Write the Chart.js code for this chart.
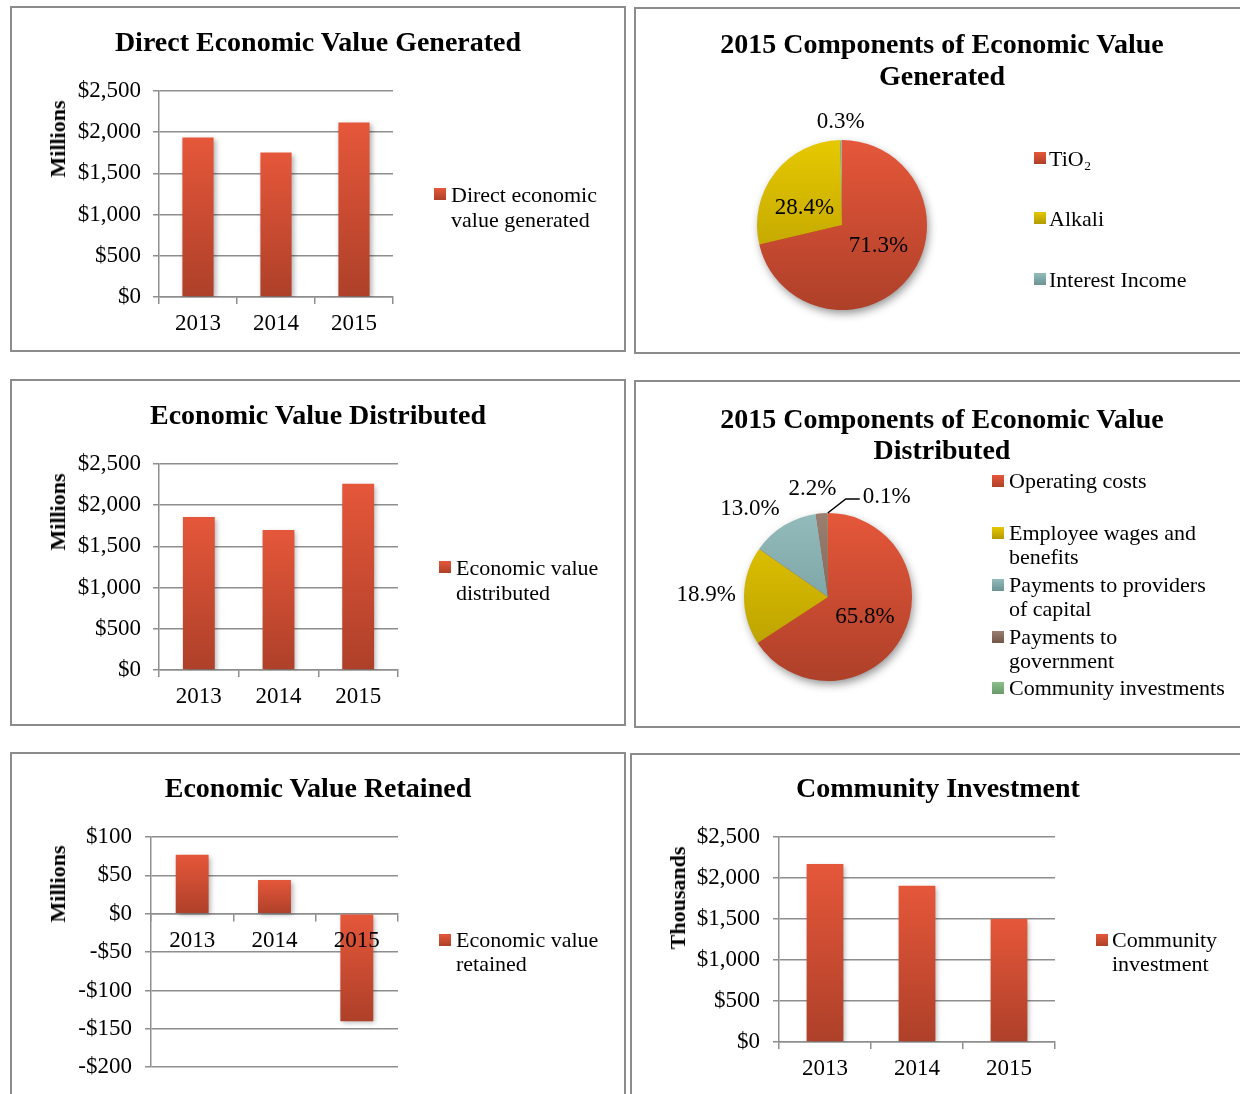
<!DOCTYPE html>
<html lang="en">
<head>
<meta charset="UTF-8">
<title>Economic Value Generated and Distributed</title>
<script src="https://cdn.jsdelivr.net/npm/chart.js"></script>
<style>
  body { margin: 0; background: #fff; font-family: "Liberation Serif", "Times New Roman", serif; color: #000; }
  #page { position: relative; width: 1240px; height: 1094px; overflow: hidden; }
  .panel { position: absolute; box-sizing: border-box; border: 2px solid #8c8c8c; background: #fff; }
  canvas { position: absolute; }
  .title { position: absolute; font-weight: bold; font-size: 28px; text-align: center; white-space: nowrap; transform: translateX(-50%); }
  .axis-title { position: absolute; font-weight: bold; font-size: 22px; line-height: 22px; white-space: nowrap; transform: translate(-50%, -50%) rotate(-90deg); }
  .legend-text { position: absolute; font-size: 22px; white-space: nowrap; }
  .swatch { position: absolute; width: 12px; height: 12px; }
</style>
</head>
<body>
<div id="page"></div>
<script>
// ---- data ----
const years = ['2013', '2014', '2015'];
const generated = [1936, 1753, 2119];      // $ millions
const distributed = [1858, 1700, 2261];    // $ millions
const retained = [77, 44, -140];           // $ millions
const community = [2170, 1905, 1500];      // $ thousands

const genSources = ['TiO₂', 'Alkali', 'Interest Income'];
const genShares = [71.3, 28.4, 0.3];

const distUses = [
  ['Operating costs'],
  ['Employee wages and', 'benefits'],
  ['Payments to providers', 'of capital'],
  ['Payments to', 'government'],
  ['Community investments']
];
const distShares = [65.8, 18.9, 13.0, 2.2, 0.1];

const seriesNames = {
  generated: ['Direct economic', 'value generated'],
  distributed: ['Economic value', 'distributed'],
  retained: ['Economic value', 'retained'],
  community: ['Community', 'investment']
};

// ---- look ----
const GRID = '#8e8e8e';
const palette = [
  ['#e5573a', '#ae4029'],
  ['#e6c800', '#b29900'],
  ['#94bbbb', '#6b9393'],
  ['#9a7f70', '#725648'],
  ['#8cbf8c', '#699969']
];

Chart.defaults.font.family = '"Liberation Serif", "Times New Roman", serif';
Chart.defaults.font.size = 23;
Chart.defaults.color = '#000';
Chart.defaults.animation = false;
Chart.defaults.plugins.legend.display = false;
Chart.defaults.plugins.tooltip.enabled = false;

const page = document.getElementById('page');

function px(el, props) {
  for (const k in props) el.style[k] = props[k] + 'px';
}

function panel(l, t, w, h) {
  const d = document.createElement('div');
  d.className = 'panel';
  px(d, { left: l, top: t, width: w, height: h });
  page.appendChild(d);
}

function canvasAt(box) {
  const c = document.createElement('canvas');
  c.width = box.w;
  c.height = box.h;
  px(c, { left: box.x, top: box.y });
  page.appendChild(c);
  return c;
}

function title(lines, cx, cy, lh) {
  const d = document.createElement('div');
  d.className = 'title';
  d.innerHTML = lines.join('<br>');
  d.style.lineHeight = lh + 'px';
  px(d, { left: cx, top: cy - lh / 2 });
  page.appendChild(d);
}

function axisTitle(text, cx, cy) {
  const d = document.createElement('div');
  d.className = 'axis-title';
  d.textContent = text;
  px(d, { left: cx, top: cy });
  page.appendChild(d);
}

function gradientCss(c) {
  return 'linear-gradient(' + c[0] + ', ' + c[1] + ')';
}

function legend(names, colors, sx, tx, ys, lh) {
  names.forEach((lines, i) => {
    const sw = document.createElement('div');
    sw.className = 'swatch';
    sw.style.background = gradientCss(colors[i]);
    px(sw, { left: sx, top: ys[i] - 6 });
    page.appendChild(sw);
    const t = document.createElement('div');
    t.className = 'legend-text';
    t.innerHTML = [].concat(lines).join('<br>');
    t.style.lineHeight = lh + 'px';
    px(t, { left: tx, top: ys[i] - lh / 2 });
    page.appendChild(t);
  });
}

function money(v) {
  const s = '$' + Math.abs(v).toLocaleString('en-US');
  return v < 0 ? '-' + s : s;
}

// each bar shades from light at its top to dark at its bottom
function barFill(c) {
  const y = c.chart.scales.y;
  if (!y || c.raw == null) return palette[0][0];
  const a = y.getPixelForValue(c.raw), b = y.getPixelForValue(0);
  if (!isFinite(a) || !isFinite(b) || a === b) return palette[0][0];
  const g = c.chart.ctx.createLinearGradient(0, Math.min(a, b), 0, Math.max(a, b));
  g.addColorStop(0, palette[0][0]);
  g.addColorStop(1, palette[0][1]);
  return g;
}

const barShadow = {
  id: 'barShadow',
  beforeDatasetsDraw(chart) {
    const ctx = chart.ctx;
    ctx.save();
    ctx.shadowColor = 'rgba(0,0,0,0.3)';
    ctx.shadowBlur = 5;
    ctx.shadowOffsetX = 2;
    ctx.shadowOffsetY = 2;
  },
  afterDatasetsDraw(chart) {
    chart.ctx.restore();
  }
};

function barChart(box, area, values, range, tickPad, zeroAxis) {
  return new Chart(canvasAt(box), {
    type: 'bar',
    data: {
      labels: years,
      datasets: [{ data: values, backgroundColor: barFill, categoryPercentage: 1, barPercentage: 0.4 }]
    },
    options: {
      responsive: false,
      devicePixelRatio: 1,
      layout: {
        padding: {
          left: 0,
          top: area.t - box.y,
          right: box.x + box.w - area.r,
          bottom: zeroAxis ? box.y + box.h - area.b : 0
        }
      },
      scales: {
        x: {
          position: zeroAxis ? { y: 0 } : 'bottom',
          grid: { offset: true, drawOnChartArea: false, color: GRID, lineWidth: 1.5, tickLength: 7 },
          border: { color: GRID, width: 1.5 },
          ticks: { padding: 6, z: 1 },
          afterFit: s => { if (!zeroAxis) s.height = box.y + box.h - area.b; }
        },
        y: {
          min: range[0],
          max: range[1],
          ticks: { stepSize: range[2], padding: tickPad, callback: money },
          grid: { color: GRID, lineWidth: 1.5, tickLength: 6 },
          border: { color: GRID, width: 1.5 },
          afterFit: s => { s.width = area.l - box.x; }
        }
      }
    },
    plugins: [barShadow]
  });
}

// pie slices shade top to bottom across the whole disc
function pieFill(c) {
  const col = palette[c.dataIndex] || palette[0];
  const area = c.chart.chartArea;
  if (!area || !isFinite(area.top) || !isFinite(area.bottom) || area.bottom <= area.top) return col[0];
  const g = c.chart.ctx.createLinearGradient(0, area.top, 0, area.bottom);
  g.addColorStop(0, col[0]);
  g.addColorStop(1, col[1]);
  return g;
}

const pieShadow = {
  id: 'pieShadow',
  beforeDatasetsDraw(chart) {
    const arc = chart.getDatasetMeta(0).data[0];
    if (!arc) return;
    const p = arc.getProps(['x', 'y', 'outerRadius'], true);
    const ctx = chart.ctx;
    ctx.save();
    ctx.shadowColor = 'rgba(0,0,0,0.45)';
    ctx.shadowBlur = 10;
    ctx.shadowOffsetX = 2;
    ctx.shadowOffsetY = 4;
    ctx.fillStyle = palette[0][1];
    ctx.beginPath();
    ctx.arc(p.x, p.y, p.outerRadius - 1, 0, Math.PI * 2);
    ctx.fill();
    ctx.restore();
  }
};

// percentage labels: big slices inside, small ones just outside the rim
const sliceLabels = {
  id: 'sliceLabels',
  afterDatasetsDraw(chart, args, opts) {
    const ctx = chart.ctx;
    const values = chart.data.datasets[0].data;
    const nudge = opts.nudge || {};
    ctx.save();
    ctx.font = '23px "Liberation Serif", serif';
    ctx.fillStyle = '#000';
    ctx.textBaseline = 'middle';
    chart.getDatasetMeta(0).data.forEach((arc, i) => {
      const text = values[i].toFixed(1) + '%';
      const [nx, ny] = nudge[i] || [0, 0];
      const p = arc.getProps(['x', 'y', 'startAngle', 'endAngle', 'outerRadius'], true);
      const mid = (p.startAngle + p.endAngle) / 2;
      const dx = Math.cos(mid), dy = Math.sin(mid);
      if (values[i] >= opts.insideMin) {
        const c = arc.tooltipPosition(true);
        ctx.textAlign = 'center';
        ctx.fillText(text, c.x + nx, c.y + ny);
        return;
      }
      const ex = p.x + dx * p.outerRadius, ey = p.y + dy * p.outerRadius;
      const bend = opts.callout && opts.callout[i];
      if (bend) {
        const bx = ex + bend[0], by = ey + bend[1];
        ctx.strokeStyle = '#000';
        ctx.lineWidth = 1.5;
        ctx.beginPath();
        ctx.moveTo(ex, ey);
        ctx.lineTo(bx, by);
        ctx.lineTo(bx + bend[2], by);
        ctx.stroke();
        ctx.textAlign = 'left';
        ctx.fillText(text, bx + bend[2] + 3, by - 2);
        return;
      }
      const w = ctx.measureText(text).width, h = 20;
      const lean = v => Math.max(-1, Math.min(1, v * 2));
      ctx.textAlign = 'center';
      ctx.fillText(text, ex + dx * opts.gap + lean(dx) * w / 2 + nx, ey + dy * opts.gap + lean(dy) * h / 2 + ny);
    });
    ctx.restore();
  }
};

function pieChart(box, area, names, values, labelOpts) {
  return new Chart(canvasAt(box), {
    type: 'pie',
    data: {
      labels: names.map(n => [].concat(n).join(' ')),
      datasets: [{ data: values, backgroundColor: pieFill, borderWidth: 0 }]
    },
    options: {
      responsive: false,
      devicePixelRatio: 1,
      layout: {
        padding: {
          left: area.l - box.x,
          top: area.t - box.y,
          right: box.x + box.w - area.r,
          bottom: box.y + box.h - area.b
        }
      },
      plugins: { sliceLabels: labelOpts }
    },
    plugins: [pieShadow, sliceLabels]
  });
}

// ---- panels ----
panel(10, 6, 616, 346);
panel(634, 7, 620, 347);
panel(10, 379, 616, 347);
panel(634, 380, 620, 348);
panel(10, 752, 616, 360);
panel(630, 753, 624, 360);

// Direct economic value generated
barChart({ x: 12, y: 8, w: 612, h: 342 }, { l: 159, t: 91, r: 393, b: 297 }, generated, [0, 2500, 500], 12, false);
title(['Direct Economic Value Generated'], 318, 42, 32);
axisTitle('Millions', 58, 139);
legend([seriesNames.generated], [palette[0]], 434, 451, [194], 25);

// 2015 components of value generated
pieChart({ x: 636, y: 9, w: 604, h: 343 }, { l: 757, t: 140, r: 927, b: 310 }, genSources, genShares,
  { insideMin: 20, gap: 8, nudge: { 0: [3, -5], 1: [-4, 9] } });
title(['2015 Components of Economic Value', 'Generated'], 942, 44, 32);
legend(genSources, palette, 1034, 1049, [158, 218, 279], 25);

// Economic value distributed
barChart({ x: 12, y: 381, w: 612, h: 343 }, { l: 159, t: 464, r: 398, b: 670 }, distributed, [0, 2500, 500], 12, false);
title(['Economic Value Distributed'], 318, 415, 32);
axisTitle('Millions', 58, 512);
legend([seriesNames.distributed], [palette[0]], 439, 456, [567], 25);

// 2015 components of value distributed
pieChart({ x: 636, y: 382, w: 604, h: 344 }, { l: 744, t: 513, r: 912, b: 681 }, distUses, distShares,
  { insideMin: 20, gap: 8, callout: { 4: [18, -14, 14] }, nudge: { 3: [-5, -6] } });
title(['2015 Components of Economic Value', 'Distributed'], 942, 418, 31);
legend(distUses, palette, 992, 1009, [481, 533, 585, 637, 688], 24);

// Economic value retained
barChart({ x: 12, y: 754, w: 612, h: 340 }, { l: 151, t: 837, r: 398, b: 1069 }, retained, [-200, 100, 50], 13, true);
title(['Economic Value Retained'], 318, 788, 32);
axisTitle('Millions', 58, 884);
legend([seriesNames.retained], [palette[0]], 439, 456, [940], 24);

// Community investment
barChart({ x: 632, y: 755, w: 608, h: 339 }, { l: 779, t: 837, r: 1055, b: 1042 }, community, [0, 2500, 500], 13, false);
title(['Community Investment'], 938, 788, 32);
axisTitle('Thousands', 678, 898);
legend([seriesNames.community], [palette[0]], 1096, 1112, [940], 24);
</script>
</body>
</html>
